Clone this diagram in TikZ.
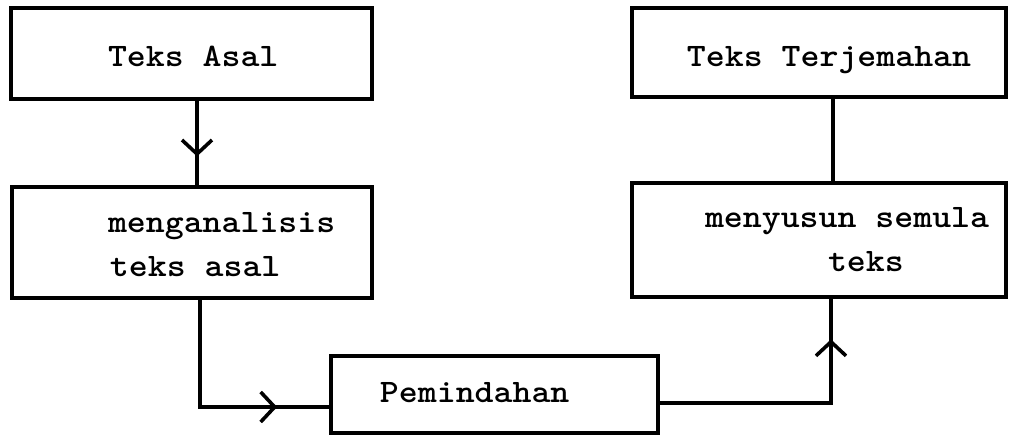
\documentclass[tikz,border=0pt]{standalone}
\usepackage{graphicx}
\usetikzlibrary{arrows.meta,decorations.markings}
\newcommand\tx[1]{\scalebox{1.1}[1]{\spaceskip=0.525em\relax #1}}
\begin{document}
\begin{tikzpicture}[x=0.5pt,y=-0.5pt,
  box/.style={draw, line width=1.9pt, inner sep=0pt, align=left,
    font=\fontsize{16.4pt}{22pt}\selectfont\ttfamily\bfseries},
  conn/.style={line width=1.8pt},
  barb/.style={postaction={decorate}, decoration={markings,
    mark=at position #1 with {\arrow{Straight Barb[length=7pt,width=15pt]}}}}
]
\useasboundingbox (0,0) rectangle (1009,437);
\node[box, text width=180.5pt, minimum height=45.5pt, text height=13.5pt, text depth=0pt] (A) at (191.5,53.5)
  {\hspace*{48.5pt}\tx{Teks Asal}};
\node[box, text width=180pt, minimum height=55.5pt, text height=10pt, text depth=19.5pt] (B) at (192,242.5)
  {\hspace*{48pt}\tx{menganalisis}\\\hspace*{49pt}\tx{teks asal}};
\node[box, text width=163.5pt, minimum height=38.5pt, text height=8.5pt, text depth=0pt] (C) at (494.5,394.5)
  {\hspace*{24.5pt}\tx{Pemindahan}};
\node[box, text width=187pt, minimum height=57pt, text height=10pt, text depth=22pt] (D) at (819,240)
  {\hspace*{36.5pt}\tx{menyusun semula}\\\hspace*{98pt}\tx{teks}};
\node[box, text width=187pt, minimum height=44.5pt, text height=14.5pt, text depth=0pt] (E) at (819,52.5)
  {\hspace*{27.5pt}\tx{Teks Terjemahan}};
\draw[conn, barb=0.66] ([xshift=2.75pt]A.south) -- ([xshift=2.75pt]A.south |- B.north);
\draw[conn, barb=0.78] ([xshift=4pt]B.south) |- ([yshift=-6.25pt]C.west);
\draw[conn, barb=0.853] ([yshift=-4.25pt]C.east) -| ([xshift=6pt]D.south);
\draw[conn] ([xshift=7pt]D.north) -- ([xshift=7pt]E.south);
\end{tikzpicture}
\end{document}
